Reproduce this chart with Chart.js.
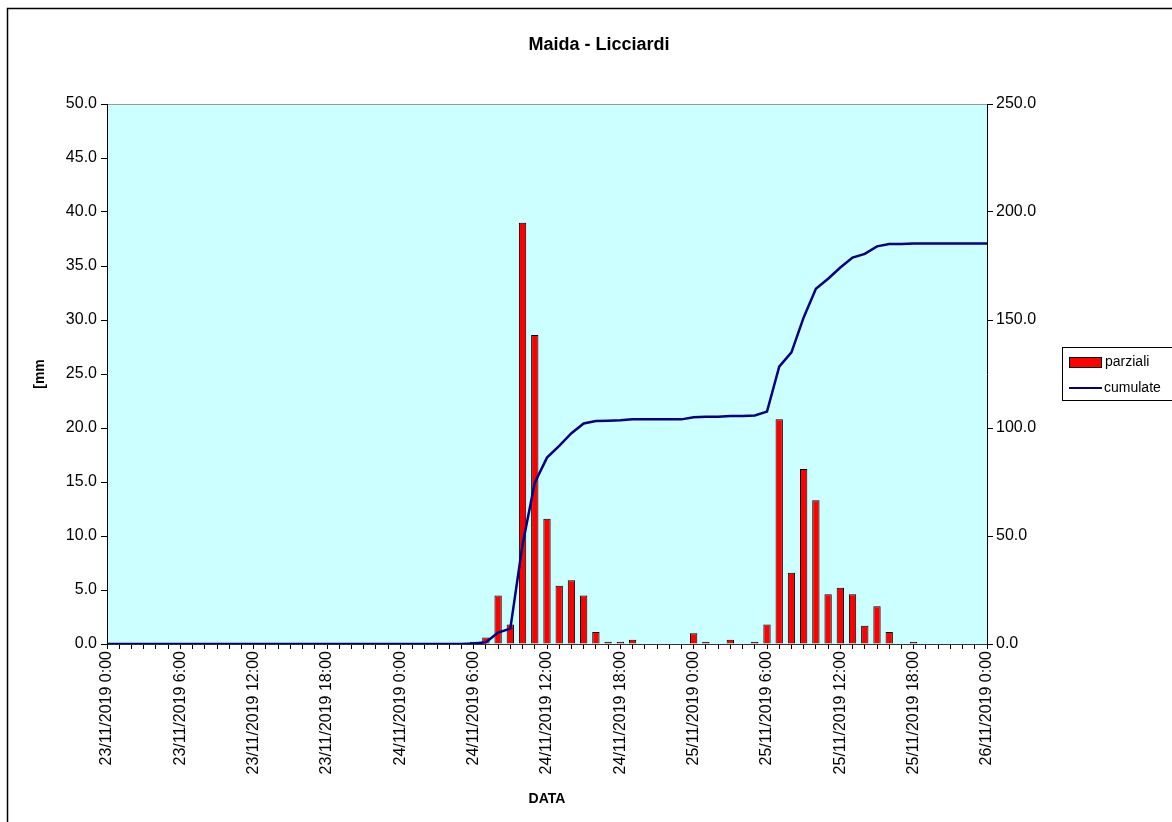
<!DOCTYPE html>
<html>
<head>
<meta charset="utf-8">
<script src="https://cdn.jsdelivr.net/npm/chart.js@4.4.1/dist/chart.umd.min.js"></script>
<style>
  html, body { margin: 0; padding: 0; background: #ffffff; }
  #wrap { position: relative; width: 1172px; height: 822px; }
  canvas { display: block; }
</style>
</head>
<body>
<div id="wrap"><canvas id="c" width="1172" height="822"></canvas></div>
<script>
const chartTitle = "Maida - Licciardi";
const xAxisTitle = "DATA";
const yAxisTitle = "[mm";
const seriesNames = ["parziali", "cumulate"];

const categories = [
  "23/11/2019 0:00","23/11/2019 1:00","23/11/2019 2:00","23/11/2019 3:00","23/11/2019 4:00","23/11/2019 5:00",
  "23/11/2019 6:00","23/11/2019 7:00","23/11/2019 8:00","23/11/2019 9:00","23/11/2019 10:00","23/11/2019 11:00",
  "23/11/2019 12:00","23/11/2019 13:00","23/11/2019 14:00","23/11/2019 15:00","23/11/2019 16:00","23/11/2019 17:00",
  "23/11/2019 18:00","23/11/2019 19:00","23/11/2019 20:00","23/11/2019 21:00","23/11/2019 22:00","23/11/2019 23:00",
  "24/11/2019 0:00","24/11/2019 1:00","24/11/2019 2:00","24/11/2019 3:00","24/11/2019 4:00","24/11/2019 5:00",
  "24/11/2019 6:00","24/11/2019 7:00","24/11/2019 8:00","24/11/2019 9:00","24/11/2019 10:00","24/11/2019 11:00",
  "24/11/2019 12:00","24/11/2019 13:00","24/11/2019 14:00","24/11/2019 15:00","24/11/2019 16:00","24/11/2019 17:00",
  "24/11/2019 18:00","24/11/2019 19:00","24/11/2019 20:00","24/11/2019 21:00","24/11/2019 22:00","24/11/2019 23:00",
  "25/11/2019 0:00","25/11/2019 1:00","25/11/2019 2:00","25/11/2019 3:00","25/11/2019 4:00","25/11/2019 5:00",
  "25/11/2019 6:00","25/11/2019 7:00","25/11/2019 8:00","25/11/2019 9:00","25/11/2019 10:00","25/11/2019 11:00",
  "25/11/2019 12:00","25/11/2019 13:00","25/11/2019 14:00","25/11/2019 15:00","25/11/2019 16:00","25/11/2019 17:00",
  "25/11/2019 18:00","25/11/2019 19:00","25/11/2019 20:00","25/11/2019 21:00","25/11/2019 22:00","25/11/2019 23:00",
  "26/11/2019 0:00"
];

const parziali = [
  0,0,0,0,0,0, 0,0,0,0,0,0, 0,0,0,0,0,0, 0,0,0,0,0,0,
  0,0,0,0,0,0, 0.2,0.6,4.5,1.8,39.0,28.6, 11.6,5.4,5.9,4.5,1.1,0.2, 0.2,0.4,0,0,0,0,
  1.0,0.2,0,0.4,0,0.2, 1.8,20.8,6.6,16.2,13.3,4.6, 5.2,4.6,1.7,3.5,1.1,0, 0.2,0,0,0,0,0,
  0
];

const cumulate = [
  0,0,0,0,0,0, 0,0,0,0,0,0, 0,0,0,0,0,0, 0,0,0,0,0,0,
  0,0,0,0,0,0, 0.2,0.8,5.3,7.1,46.1,74.7, 86.3,91.7,97.6,102.1,103.2,103.4, 103.6,104.0,104.0,104.0,104.0,104.0,
  105.0,105.2,105.2,105.6,105.6,105.8, 107.6,128.4,135.0,151.2,164.5,169.1, 174.3,178.9,180.6,184.1,185.2,185.2,
  185.4,185.4,185.4,185.4,185.4,185.4,
  185.4
];

const leftTicks = { min: 0, max: 50, step: 5 };
const rightTicks = { min: 0, max: 250, step: 50 };
const labelEvery = 6;

const FONT = "'Liberation Sans', Arial, sans-serif";

const decorPlugin = {
  id: 'decor',
  beforeDraw(chart) {
    const { ctx, chartArea: a } = chart;
    ctx.save();
    ctx.fillStyle = '#CCFFFF';
    ctx.fillRect(a.left, a.top, a.right - a.left, a.bottom - a.top);
    ctx.strokeStyle = '#9a9a9a';
    ctx.lineWidth = 1;
    ctx.beginPath();
    ctx.moveTo(a.left, a.top + 0.5);
    ctx.lineTo(a.right, a.top + 0.5);
    ctx.stroke();
    ctx.restore();
  },
  afterDraw(chart) {
    const { ctx } = chart;
    ctx.save();
    // outer border
    ctx.strokeStyle = '#000000';
    ctx.lineWidth = 1.5;
    ctx.strokeRect(7.5, 8.5, 1300, 1000);
    // title
    ctx.fillStyle = '#000000';
    ctx.font = 'bold 18px ' + FONT;
    ctx.textAlign = 'center';
    ctx.textBaseline = 'middle';
    ctx.fillText(chartTitle, 599, 45);
    // legend
    const barDs = chart.data.datasets.find(d => d.type === 'bar');
    const lineDs = chart.data.datasets.find(d => d.type === 'line');
    const lx = 1062, ly = 347, lw = 130, lh = 53;
    ctx.fillStyle = '#ffffff';
    ctx.fillRect(lx, ly, lw, lh);
    ctx.strokeStyle = '#000000';
    ctx.lineWidth = 1;
    ctx.strokeRect(lx + 0.5, ly + 0.5, lw, lh);
    ctx.fillStyle = barDs.backgroundColor;
    ctx.fillRect(1069, 357, 32, 10);
    ctx.strokeStyle = '#000000';
    ctx.strokeRect(1069.5, 357.5, 32, 10);
    ctx.strokeStyle = lineDs.borderColor;
    ctx.lineWidth = 2;
    ctx.beginPath();
    ctx.moveTo(1069, 388);
    ctx.lineTo(1102, 388);
    ctx.stroke();
    ctx.fillStyle = '#000000';
    ctx.font = '14px ' + FONT;
    ctx.textAlign = 'left';
    ctx.textBaseline = 'middle';
    ctx.fillText(barDs.label, 1105, 362);
    ctx.fillText(lineDs.label, 1104, 388);
    ctx.restore();
  }
};

new Chart(document.getElementById('c'), {
  type: 'bar',
  data: {
    labels: categories,
    datasets: [
      {
        type: 'line',
        label: seriesNames[1],
        data: cumulate,
        yAxisID: 'y1',
        borderColor: '#000080',
        backgroundColor: '#000080',
        borderWidth: 2.5,
        pointRadius: 0,
        tension: 0,
        order: 0
      },
      {
        type: 'bar',
        label: seriesNames[0],
        data: parziali,
        yAxisID: 'y',
        backgroundColor: '#FF0000',
        borderColor: '#000000',
        borderWidth: 1,
        borderSkipped: 'start',
        categoryPercentage: 1.0,
        barPercentage: 0.6,
        order: 1
      }
    ]
  },
  options: {
    responsive: false,
    animation: false,
    devicePixelRatio: 1,
    layout: { padding: { top: 104, left: 0, right: 0, bottom: 0 } },
    plugins: {
      legend: { display: false },
      title: { display: false },
      tooltip: { enabled: false }
    },
    scales: {
      x: {
        type: 'category',
        offset: false,
        afterFit(scale) { scale.height = 178; },
        grid: { offset: false, drawOnChartArea: false, drawTicks: true, tickLength: 5, color: '#000000' },
        border: { display: true, color: '#333333', width: 1 },
        ticks: {
          autoSkip: false,
          maxRotation: 90,
          minRotation: 90,
          padding: 2,
          color: '#000000',
          font: { family: FONT, size: 16 },
          callback: function(val, idx) { return idx % labelEvery === 0 ? categories[idx] : ''; }
        },
        title: {
          display: true,
          text: xAxisTitle,
          color: '#000000',
          font: { family: FONT, size: 14, weight: 'bold' },
          padding: { top: 0, bottom: 14 }
        }
      },
      y: {
        position: 'left',
        min: leftTicks.min,
        max: leftTicks.max,
        afterFit(scale) { scale.width = 107; },
        grid: { drawOnChartArea: false, drawTicks: true, tickLength: 6, color: '#000000' },
        border: { display: true, color: '#000000', width: 1 },
        ticks: {
          stepSize: leftTicks.step,
          padding: 4,
          color: '#000000',
          font: { family: FONT, size: 16 },
          callback: v => v.toFixed(1)
        },
        title: {
          display: true,
          text: yAxisTitle,
          color: '#000000',
          font: { family: FONT, size: 14, weight: 'bold' },
          padding: { top: 32, bottom: 0 }
        }
      },
      y1: {
        position: 'right',
        min: rightTicks.min,
        max: rightTicks.max,
        afterFit(scale) { scale.width = 185; },
        grid: { drawOnChartArea: false, drawTicks: true, tickLength: 6, color: '#000000' },
        border: { display: true, color: '#000000', width: 1 },
        ticks: {
          stepSize: rightTicks.step,
          padding: 3,
          color: '#000000',
          font: { family: FONT, size: 16 },
          callback: v => v.toFixed(1)
        }
      }
    }
  },
  plugins: [decorPlugin]
});
</script>
</body>
</html>
